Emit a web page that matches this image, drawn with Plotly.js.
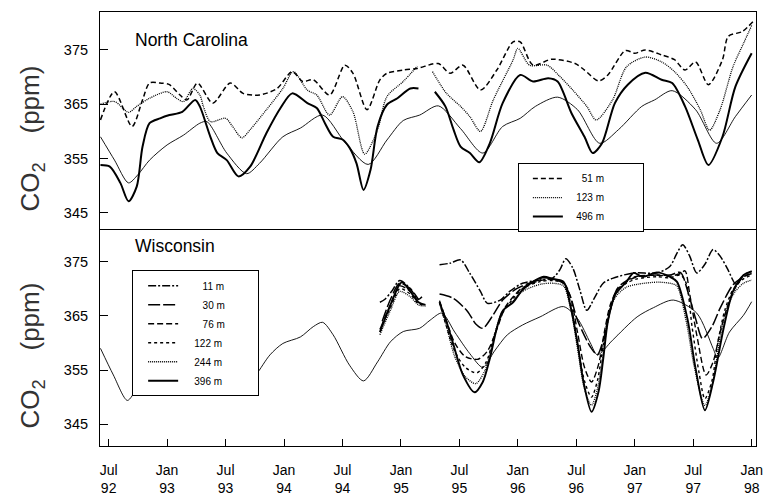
<!DOCTYPE html>
<html><head><meta charset="utf-8">
<script src="https://cdn.plot.ly/plotly-3.0.1.min.js"></script>
<style>html,body{margin:0;padding:0;background:#fff;}#chart{width:763px;height:497px;}</style>
</head><body><div id="chart"></div>
<script>
// ---- tick labels ----
const xTickVals = [1992.5,1993,1993.5,1994,1994.5,1995,1995.5,1996,1996.5,1997,1997.5,1998];
const xTickText = ['Jul<br>92','Jan<br>93','Jul<br>93','Jan<br>94','Jul<br>94','Jan<br>95','Jul<br>95','Jan<br>96','Jul<br>96','Jan<br>97','Jul<br>97','Jan<br>98'];
const yTickVals = [345,355,365,375];
const yTickText = ['345','355','365','375'];

// ---- North Carolina ----
const ncRefX = [1992.43,1992.55,1992.67,1992.75,1992.85,1993.00,1993.14,1993.28,1993.34,1993.51,1993.68,1993.79,1993.99,1994.14,1994.33,1994.52,1994.72,1994.88,1995.02,1995.16,1995.32,1995.51,1995.70,1995.87,1996.02,1996.15,1996.34,1996.51,1996.70,1996.86,1997.06,1997.17,1997.32,1997.52,1997.70,1997.86,1998.00];
const ncRefY = [359.0,354.7,350.5,352.0,354.7,357.5,359.3,361.5,361.8,356.0,352.2,354.1,359.0,360.6,363.0,358.0,353.9,358.4,362.0,363.0,364.7,360.5,356.0,360.9,362.4,364.6,366.3,364.0,357.8,360.3,364.6,365.8,367.5,364.0,357.8,362.7,366.7];

const nc51X = [1992.43,1992.55,1992.70,1992.79,1992.85,1992.94,1993.02,1993.11,1993.17,1993.26,1993.39,1993.54,1993.65,1993.79,1993.94,1994.07,1994.16,1994.25,1994.39,1994.52,1994.59,1994.71,1994.82,1994.88,1995.02,1995.14,1995.32,1995.42,1995.53,1995.68,1995.82,1995.96,1996.02,1996.13,1996.29,1996.49,1996.57,1996.69,1996.77,1996.92,1997.00,1997.09,1997.23,1997.34,1997.43,1997.52,1997.63,1997.75,1997.80,1997.92,1998.01];
const nc51Y = [362.1,367.3,360.9,365.8,368.9,368.9,368.6,366.7,365.8,368.9,365.2,368.9,367.0,366.7,367.9,371.0,369.2,369.5,366.7,372.2,370.7,364.0,369.5,370.7,371.3,371.6,372.5,370.7,372.2,367.6,371.3,376.5,376.5,372.2,373.3,372.5,371.3,369.3,370.4,374.9,374.4,375.0,374.1,373.2,371.3,372.8,368.6,373.2,377.5,378.4,380.2];

const nc123X = [1992.43,1992.55,1992.67,1992.74,1992.85,1993.00,1993.08,1993.14,1993.22,1993.28,1993.31,1993.37,1993.50,1993.56,1993.64,1993.71,1993.85,1993.99,1994.08,1994.20,1994.28,1994.39,1994.50,1994.59,1994.69,1994.80,1994.88,1995.02,1995.14,null,1995.27,1995.39,1995.51,1995.59,1995.68,1995.79,1995.96,1996.00,1996.10,1996.25,1996.36,1996.47,1996.59,1996.67,1996.81,1996.93,1997.09,1997.23,1997.34,1997.45,1997.56,1997.64,1997.73,1997.84,1997.93,1998.00];
const nc123Y = [365.0,365.5,363.5,364.6,366.1,367.3,366.1,365.5,367.9,366.7,364.6,361.8,362.4,360.9,358.8,360.3,364.0,367.9,371.0,367.6,366.7,363.0,366.4,363.6,355.8,360.3,366.4,369.2,372.0,null,371.0,367.0,364.6,362.7,360.0,365.8,373.2,375.3,372.2,372.2,370.1,367.6,364.6,362.1,365.8,371.9,373.7,372.8,371.0,368.2,364.0,360.2,364.0,371.9,376.2,379.5];

const nc496X = [1992.43,1992.51,1992.60,1992.67,1992.74,1992.79,1992.85,1992.94,1993.02,1993.13,1993.24,1993.28,1993.37,1993.43,1993.51,1993.61,1993.71,1993.85,1993.97,1994.07,1994.20,1994.28,1994.35,1994.42,1994.50,1994.56,1994.62,1994.68,1994.74,1994.80,1994.88,1994.97,1995.08,1995.15,null,1995.29,1995.38,1995.45,1995.51,1995.59,1995.67,1995.76,1995.87,1996.02,1996.13,1996.26,1996.34,1996.46,1996.57,1996.64,1996.72,1996.83,1996.94,1997.09,1997.23,1997.32,1997.43,1997.54,1997.63,1997.75,1997.86,1998.00];
const nc496Y = [353.8,353.5,350.5,347.1,349.8,357.2,361.5,362.4,363.0,363.6,365.8,364.6,359.0,356.0,354.7,351.7,353.5,359.7,364.3,367.0,365.2,364.3,361.5,359.0,358.5,357.0,354.1,349.2,352.9,360.9,364.9,366.1,367.9,367.9,null,367.3,364.6,360.3,357.2,356.0,354.3,357.8,365.2,370.4,369.2,369.8,369.2,363.3,359.0,356.0,357.8,365.2,368.6,370.8,369.5,368.9,364.6,358.4,353.8,359.0,368.2,374.4];

// ---- Wisconsin ----
const wiRefX = [1992.43,1992.54,1992.66,1992.74,1992.85,1993.02,1993.20,1993.37,1993.51,1993.65,1993.76,1993.88,1993.99,1994.14,1994.25,1994.33,1994.42,1994.56,1994.68,1994.80,1994.91,1995.02,1995.16,1995.25,1995.35,1995.46,1995.59,1995.70,1995.80,1995.91,1996.04,1996.19,1996.39,1996.51,1996.62,1996.68,1996.81,1997.02,1997.16,1997.33,1997.53,1997.67,1997.71,1997.81,1997.93,1998.00];
const wiRefY = [359.0,354.1,349.4,351.6,355.5,358.5,360.5,361.3,357.0,351.4,354.1,357.8,359.9,361.1,363.0,363.8,361.5,355.9,353.0,356.5,360.2,362.1,362.7,364.2,365.5,362.0,358.0,355.5,358.5,361.5,363.3,364.8,366.7,364.5,360.0,357.8,360.5,364.8,366.5,367.9,365.5,359.0,357.2,362.0,365.1,367.6];

const wi11X = [1994.82,1994.86,1994.92,1994.99,1995.08,1995.15,1995.18,null,1995.33,1995.42,1995.51,1995.59,1995.68,1995.74,1995.85,1995.93,1996.04,1996.19,1996.30,1996.36,1996.41,1996.47,1996.53,1996.59,1996.66,1996.73,1996.81,1996.99,1997.19,1997.30,1997.36,1997.41,1997.47,1997.53,1997.60,1997.67,1997.73,1997.79,1997.87,1997.93,1998.00];
const wi11Y = [367.5,368.0,369.5,371.5,370.0,368.0,368.5,null,374.4,374.7,375.3,372.8,369.5,367.3,367.9,369.5,371.0,371.6,372.0,373.5,375.5,373.8,369.8,366.0,368.5,371.0,371.9,372.9,372.9,374.1,376.5,378.1,376.0,372.9,374.5,377.2,376.0,373.8,370.7,372.5,373.2];

const wi30X = [1994.84,1994.91,1994.99,1995.08,1995.15,null,1995.33,1995.45,1995.57,1995.64,1995.70,1995.79,1995.87,1995.99,1996.13,1996.21,1996.30,1996.39,1996.45,1996.51,1996.62,1996.68,1996.73,1996.79,1996.85,1996.93,1997.02,1997.19,1997.30,1997.39,1997.46,1997.52,1997.58,1997.66,1997.73,1997.84,1997.93,1998.00];
const wi30Y = [364.0,368.0,371.0,370.0,368.0,null,369.0,368.2,365.8,363.5,362.7,365.2,367.9,370.0,371.3,372.0,371.8,371.0,368.5,364.2,359.3,357.8,360.5,366.0,370.0,371.5,372.3,372.5,372.5,373.0,369.0,364.5,360.8,363.0,366.4,370.7,372.2,372.8];

const wi76X = [1994.83,1994.91,1994.99,1995.08,1995.15,null,1995.33,1995.39,1995.46,1995.55,1995.66,1995.74,1995.82,1995.89,1995.96,1996.04,1996.19,1996.30,1996.39,1996.45,1996.51,1996.57,1996.63,1996.69,1996.74,1996.79,1996.85,1996.93,1997.02,1997.19,1997.30,1997.39,1997.43,1997.47,1997.53,1997.61,1997.67,1997.73,1997.79,1997.86,1997.93,1998.00];
const wi76Y = [363.0,367.0,370.5,369.5,367.5,null,367.8,364.0,360.0,357.5,357.0,358.5,362.5,366.5,368.5,370.2,371.5,371.7,371.2,368.5,362.0,355.5,352.8,356.0,362.0,367.0,369.8,371.3,372.2,372.5,372.3,372.8,373.3,369.0,361.5,354.1,356.5,362.0,366.5,370.2,372.2,372.9];

const wi122X = [1994.82,1994.91,1994.99,1995.08,1995.15,1995.21,null,1995.33,1995.39,1995.46,1995.55,1995.65,1995.73,1995.80,1995.87,1995.96,1996.04,1996.19,1996.30,1996.39,1996.45,1996.51,1996.57,1996.63,1996.68,1996.73,1996.78,1996.85,1996.93,1997.02,1997.19,1997.30,1997.39,1997.44,1997.49,1997.55,1997.60,1997.66,1997.71,1997.77,1997.84,1997.93,1998.00];
const wi122Y = [362.5,366.5,370.0,369.0,367.2,367.0,null,367.5,363.0,358.5,355.5,354.5,356.5,361.5,365.5,368.2,370.0,371.3,371.5,371.0,367.5,360.0,353.0,350.0,353.0,359.5,365.5,369.5,371.0,371.8,372.2,372.0,372.5,371.0,363.0,354.5,349.7,353.0,360.0,366.0,369.8,371.8,372.5];

const wi244X = [1994.82,1994.91,1994.99,1995.08,1995.15,1995.21,null,1995.33,1995.39,1995.46,1995.55,1995.64,1995.72,1995.79,1995.86,1995.96,1996.04,1996.19,1996.30,1996.39,1996.45,1996.51,1996.57,1996.63,1996.68,1996.73,1996.77,1996.83,1996.93,1997.02,1997.19,1997.30,1997.36,1997.44,1997.51,1997.60,1997.67,1997.73,1997.79,1997.86,1997.93,1998.00];
const wi244Y = [361.5,366.0,369.5,368.5,367.0,366.8,null,367.3,363.0,357.5,353.8,352.5,355.0,360.5,365.5,367.8,369.5,370.8,371.0,370.5,366.5,359.0,351.5,348.5,351.5,358.0,364.0,368.3,370.3,370.8,371.2,371.0,370.5,364.0,355.5,348.5,353.0,361.0,366.5,369.5,371.0,371.6];

const wi396X = [1994.82,1994.91,1994.98,1995.01,1995.08,1995.15,1995.21,null,1995.33,1995.39,1995.45,1995.53,1995.63,1995.70,1995.76,1995.82,1995.87,1995.96,1996.04,1996.13,1996.22,1996.30,1996.39,1996.45,1996.51,1996.56,1996.63,1996.69,1996.73,1996.77,1996.83,1996.93,1996.99,1997.07,1997.19,1997.30,1997.36,1997.45,1997.52,1997.60,1997.67,1997.76,1997.84,1997.93,1998.00];
const wi396Y = [362.0,367.0,370.5,371.2,369.5,367.5,367.0,null,367.5,363.9,359.6,354.1,350.9,352.8,357.1,362.7,365.9,367.5,369.8,371.3,372.2,371.8,371.3,366.8,360.0,353.0,347.3,351.0,357.0,364.0,368.8,371.3,372.9,372.2,373.0,372.2,371.3,364.5,355.3,347.6,352.8,362.7,369.5,372.5,373.2];

// ---- legend names ----
const NB = '\u00a0';
const pad = n => NB.repeat(n);
const ncNames = [pad(5)+'51 m'+pad(12), pad(3)+'123 m'+pad(12), pad(3)+'496 m'+pad(12)];
const wiNames = [pad(7)+'11 m'+pad(10), pad(7)+'30 m'+pad(10), pad(7)+'76 m'+pad(10), pad(4)+'122 m'+pad(10), pad(4)+'244 m'+pad(10), pad(4)+'396 m'+pad(10)];

function tr(x, y, xa, ya, name, dash, width, legend, show) {
  return {x: x, y: y, xaxis: xa, yaxis: ya, type: 'scatter', mode: 'lines', name: name,
    line: {color: '#000', width: width, dash: dash, shape: 'spline', smoothing: 0.8},
    connectgaps: false, showlegend: show, legend: legend, hoverinfo: 'skip'};
}

const data = [
  tr(ncRefX, ncRefY, 'x2', 'y2', 'reference', 'solid', 0.9, 'legend', false),
  tr(nc51X, nc51Y, 'x2', 'y2', ncNames[0], '5px,3px', 1.5, 'legend', true),
  tr(nc123X, nc123Y, 'x2', 'y2', ncNames[1], '1px,1px', 1.3, 'legend', true),
  tr(nc496X, nc496Y, 'x2', 'y2', ncNames[2], 'solid', 2, 'legend', true),
  tr(wiRefX, wiRefY, 'x', 'y', 'reference', 'solid', 0.9, 'legend2', false),
  tr(wi11X, wi11Y, 'x', 'y', wiNames[0], '8px,2px,2px,2px', 1.5, 'legend2', true),
  tr(wi30X, wi30Y, 'x', 'y', wiNames[1], '12px,3px', 1.5, 'legend2', true),
  tr(wi76X, wi76Y, 'x', 'y', wiNames[2], '6px,3px', 1.4, 'legend2', true),
  tr(wi122X, wi122Y, 'x', 'y', wiNames[3], '3px,3px', 1.4, 'legend2', true),
  tr(wi244X, wi244Y, 'x', 'y', wiNames[4], '1px,1px', 1.3, 'legend2', true),
  tr(wi396X, wi396Y, 'x', 'y', wiNames[5], 'solid', 1.9, 'legend2', true)
];

const font = {family: '"Liberation Sans", Arial, Helvetica, sans-serif', color: '#000'};
const yTitle = {text: 'CO<sub>2</sub>' + pad(4) + '(ppm)' + pad(5) + '\u200b', font: {size: 26, color: '#333', family: font.family}, standoff: 16};

const commonY = {tickvals: yTickVals, ticktext: yTickText.map(t => t + pad(2)), ticks: 'inside', ticklen: 8, tickcolor: '#000',
  showline: true, mirror: true, linecolor: '#000', linewidth: 1, showgrid: false, zeroline: false,
  tickfont: {size: 14.5, color: '#000'}, title: yTitle};

const layout = {
  width: 763, height: 497,
  margin: {l: 100, r: 7, t: 12, b: 51},
  paper_bgcolor: '#fff', plot_bgcolor: '#fff',
  font: font,
  xaxis: {range: [1992.426, 1998.037], tickvals: xTickVals, ticktext: xTickText,
    ticks: 'inside', ticklen: 7, tickcolor: '#000', showline: true, mirror: false,
    linecolor: '#000', linewidth: 1, showgrid: false, zeroline: false,
    tickfont: {size: 14, color: '#000'}, ticklabelstandoff: 11, anchor: 'y'},
  xaxis2: {matches: 'x', anchor: 'y2', showticklabels: false, ticks: '', showline: true, mirror: true,
    linecolor: '#000', linewidth: 1, showgrid: false, zeroline: false},
  yaxis: Object.assign({domain: [0, 0.5], range: [341, 381], anchor: 'x'}, commonY),
  yaxis2: Object.assign({domain: [0.5, 1], range: [342, 382], anchor: 'x2'}, commonY),
  legend: {x: 0.637, y: 0.652, xanchor: 'left', yanchor: 'top', bgcolor: '#fff',
    bordercolor: '#000', borderwidth: 1, font: {size: 10, color: '#000'}, itemwidth: 30, indentation: 9,
    traceorder: 'normal'},
  legend2: {x: 0.049, y: 0.405, xanchor: 'left', yanchor: 'top', bgcolor: '#fff',
    bordercolor: '#000', borderwidth: 1, font: {size: 10, color: '#000'}, itemwidth: 30, indentation: 10,
    traceorder: 'normal'},
  annotations: [
    {xref: 'paper', yref: 'paper', x: 0.0503, y: 0.935, xanchor: 'left', yanchor: 'middle',
      text: 'North Carolina', showarrow: false, font: {size: 17.5, color: '#000'}},
    {xref: 'paper', yref: 'paper', x: 0.0503, y: 0.46, xanchor: 'left', yanchor: 'middle',
      text: 'Wisconsin', showarrow: false, font: {size: 17.5, color: '#000'}}
  ],
  showlegend: true
};

Plotly.newPlot('chart', data, layout, {displayModeBar: false, staticPlot: true});
</script></body></html>
